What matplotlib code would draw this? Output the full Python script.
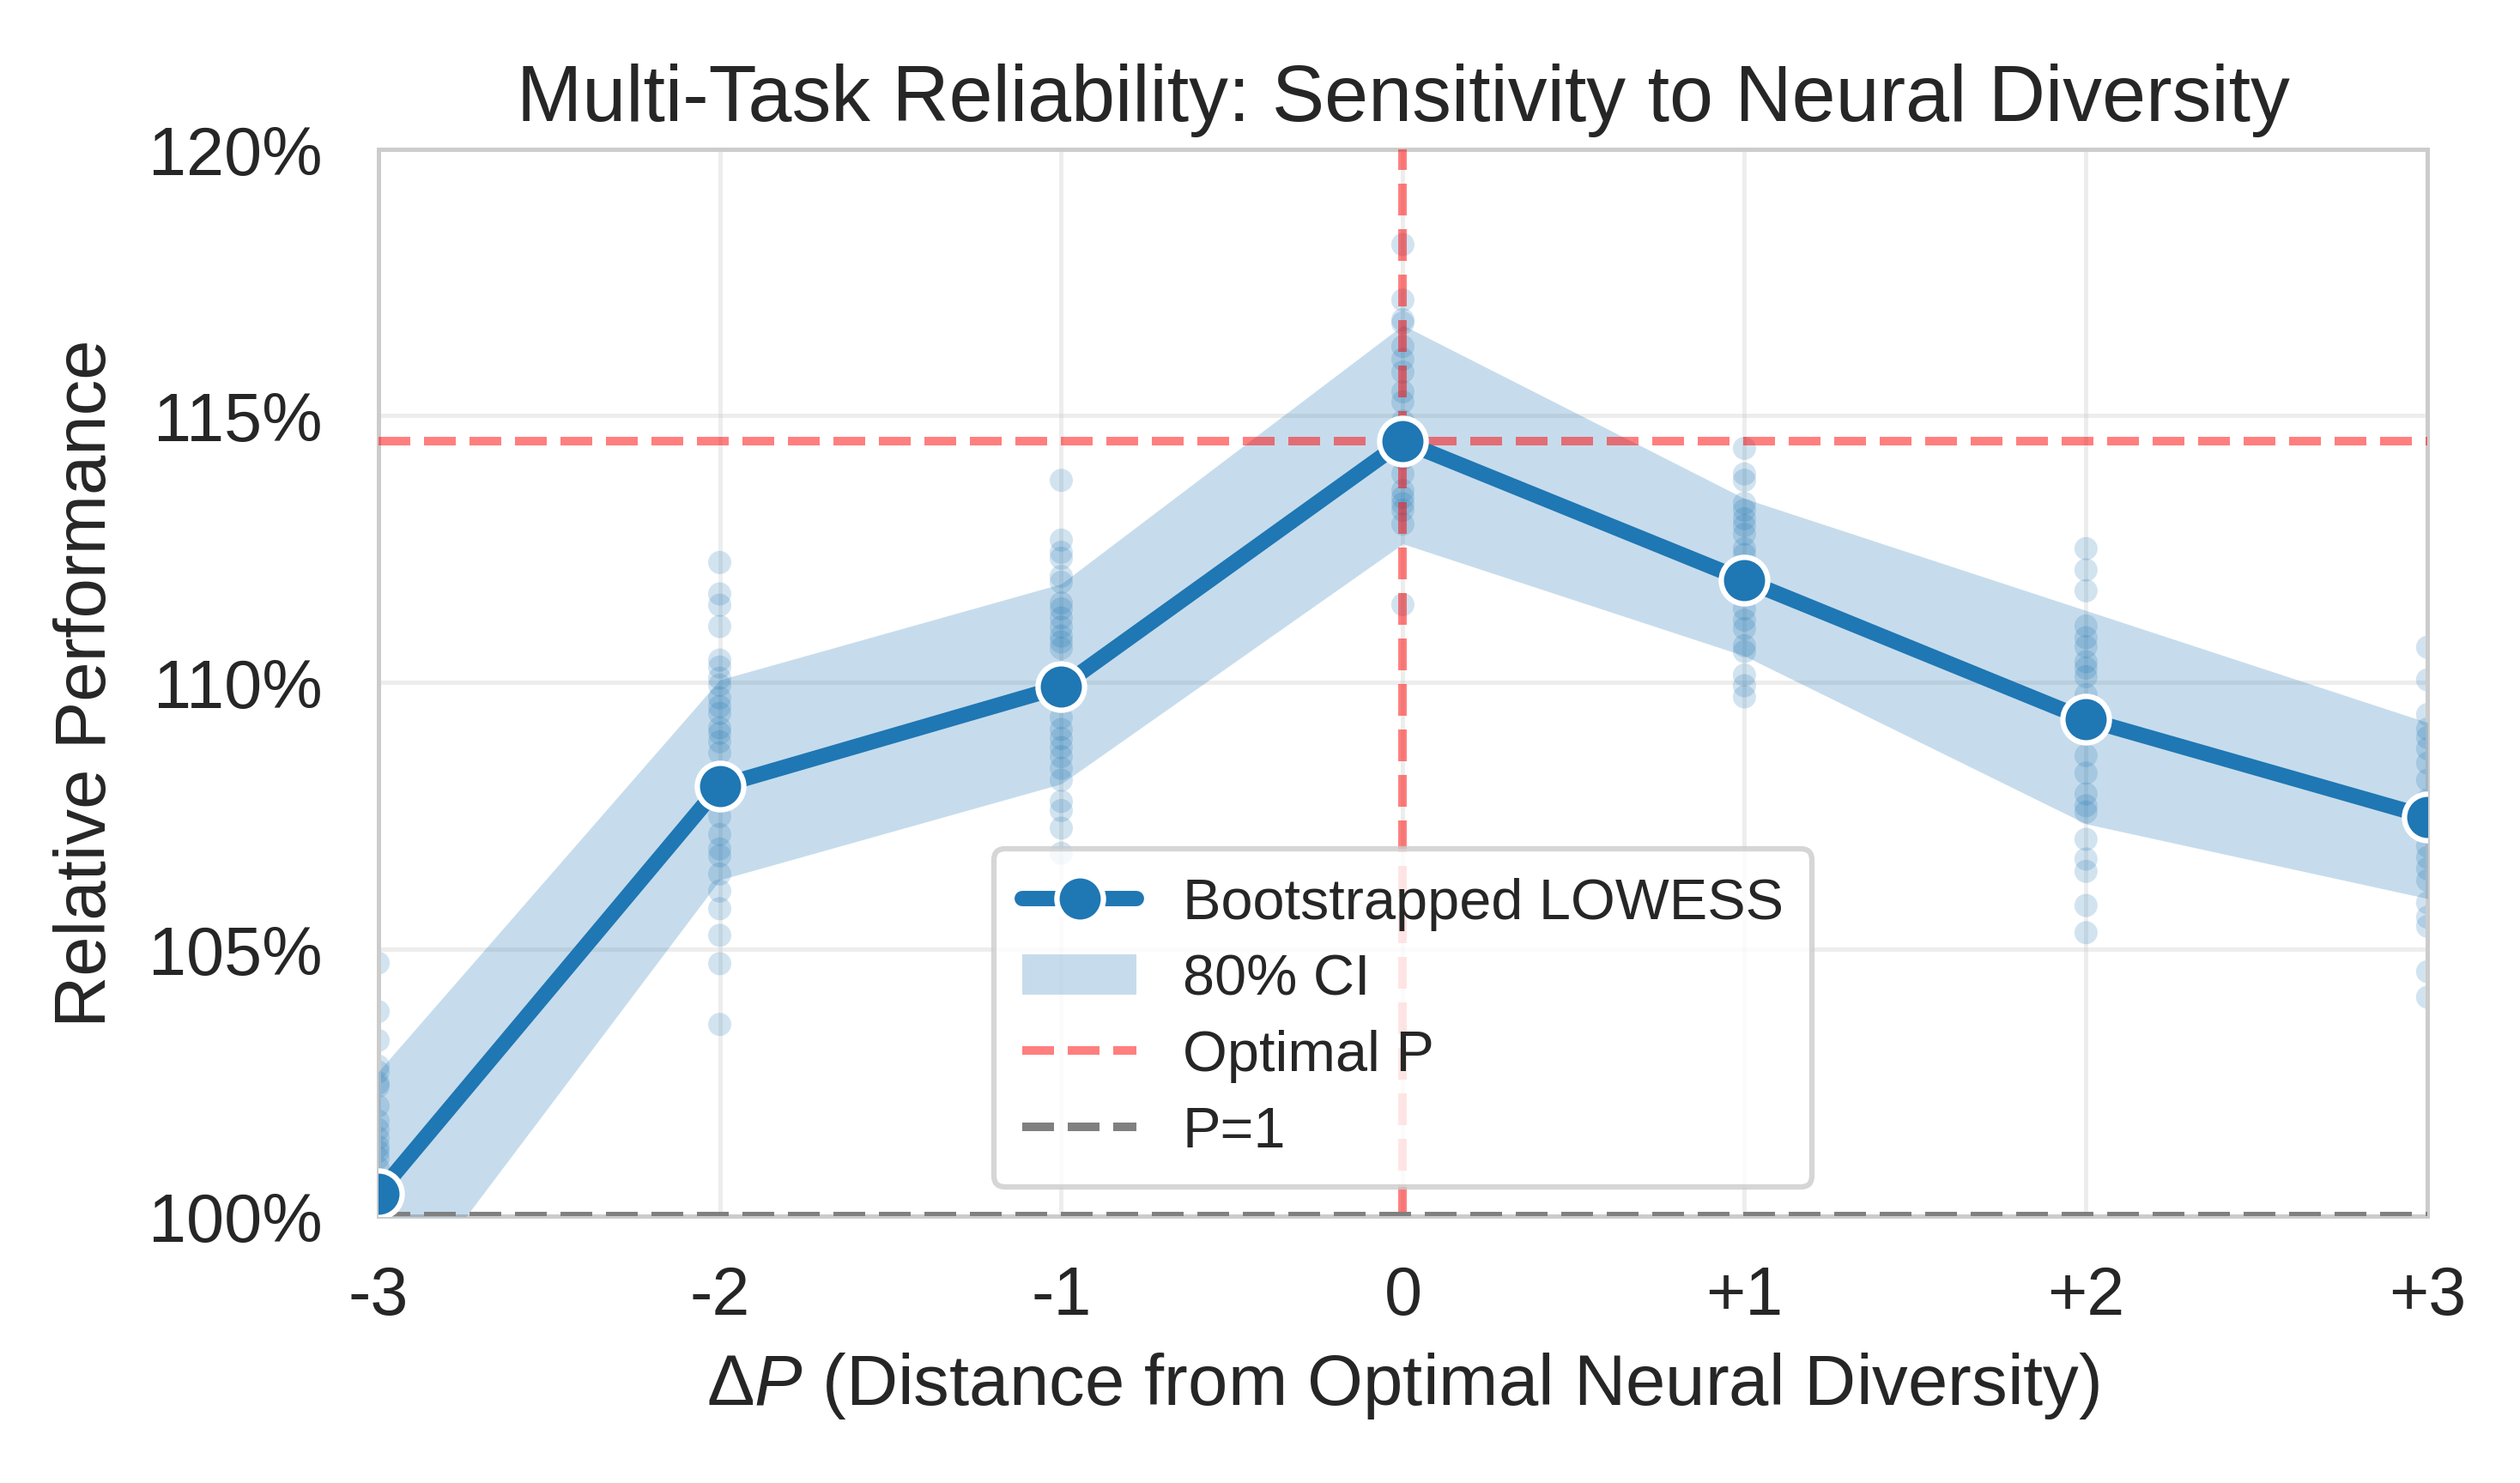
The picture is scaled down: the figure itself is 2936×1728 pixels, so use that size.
import numpy as np
import matplotlib
matplotlib.use('Agg')
import matplotlib.pyplot as plt
import seaborn as sns
from matplotlib.ticker import FuncFormatter

sns.set_style('whitegrid')
plt.rcParams['font.family'] = ['Liberation Sans', 'DejaVu Sans']
plt.rcParams['mathtext.fontset'] = 'custom'
plt.rcParams['mathtext.rm'] = 'Liberation Sans'
plt.rcParams['mathtext.it'] = 'Liberation Sans:italic'

# distance from optimal P
delta_p = [-3, -2, -1, 0, 1, 2, 3]
tick_labels = ['-3', '-2', '-1', '0', '+1', '+2', '+3']

# LOWESS curve and 80% CI (relative performance, %)
curve = [100.42, 108.06, 109.92, 114.52, 111.92, 109.31, 107.48]
ci_low = [97.8, 106.3, 108.1, 112.6, 110.5, 107.35, 105.95]
ci_high = [102.7, 110.05, 111.85, 116.7, 113.45, 111.35, 109.25]

# raw samples per delta P
samples = {
    -3: [104.74, 103.83, 103.29, 102.81, 102.70, 102.49, 102.43, 102.06, 101.78,
         101.62, 101.46, 101.30, 101.21, 101.09, 100.9, 100.7, 100.5, 100.3],
    -2: [112.25, 111.66, 111.45, 111.05, 110.42, 110.29, 110.08, 109.95, 109.71,
         109.55, 109.42, 109.15, 109.05, 108.89, 108.68, 108.3, 107.9, 107.49,
         107.15, 106.88, 106.75, 106.41, 106.09, 105.76, 105.26, 104.73, 103.59],
    -1: [113.79, 112.67, 112.44, 112.33, 111.99, 111.88, 111.49, 111.38, 111.21,
         111.04, 110.87, 110.76, 110.64, 110.2, 109.7, 109.34, 109.12, 108.95,
         108.78, 108.61, 108.39, 108.17, 107.77, 107.60, 107.27, 106.80],
    0: [118.21, 117.17, 116.80, 116.74, 116.30, 116.06, 115.82, 115.45, 115.26,
        114.9, 114.6, 114.2, 113.91, 113.60, 113.47, 113.35, 113.23, 112.97, 111.46],
    1: [114.39, 113.91, 113.79, 113.36, 113.23, 113.07, 112.94, 112.78, 112.51,
        112.40, 112.1, 111.7, 111.38, 111.17, 111.01, 110.69, 110.58, 110.14,
        109.94, 109.73],
    2: [112.51, 112.11, 111.72, 111.06, 110.84, 110.67, 110.39, 110.27, 110.11,
        109.77, 109.5, 109.1, 108.63, 108.30, 107.91, 107.69, 107.57, 107.06,
        106.69, 106.46, 105.82, 105.31],
    3: [110.66, 110.05, 109.40, 109.13, 108.97, 108.76, 108.49, 108.17, 107.8,
        107.2, 106.93, 106.72, 106.51, 106.29, 105.87, 105.60, 105.43, 104.58,
        104.10],
}

optimal_perf = curve[delta_p.index(0)]
baseline = 100.0

blue = '#1f77b4'

fig, ax = plt.subplots(figsize=(9.79, 5.763), dpi=300)
fig.subplots_adjust(left=0.150, right=0.963, bottom=0.180, top=0.899)

for dp, vals in samples.items():
    ax.scatter([dp] * len(vals), vals, s=42, color=blue, alpha=0.2,
               edgecolors='none', zorder=2)

ax.fill_between(delta_p, ci_low, ci_high, color=blue, alpha=0.25,
                linewidth=0, label='80% CI', zorder=3)
ax.axvline(0, color='red', alpha=0.5, ls='--', lw=2.4, zorder=4)
ax.axhline(optimal_perf, color='red', alpha=0.5, ls='--', lw=2.4,
           label='Optimal P', zorder=4)
ax.axhline(baseline, color='gray', ls='--', lw=2.4, label='P=1', zorder=4)
ax.plot(delta_p, curve, color=blue, lw=4.3, marker='o', markersize=13,
        markeredgecolor='white', markeredgewidth=1.5,
        label='Bootstrapped LOWESS', zorder=5)

ax.set_xlim(-3, 3)
ax.set_ylim(100, 120)
ax.set_xticks(delta_p)
ax.set_xticklabels(tick_labels)
ax.set_yticks([100, 105, 110, 115, 120])
ax.yaxis.set_major_formatter(FuncFormatter(lambda v, p: '{:.0f}%'.format(v)))
ax.tick_params(labelsize=19)
ax.tick_params(axis='y', pad=12)
ax.tick_params(axis='x', pad=10)
ax.grid(True, color='.8', alpha=0.35, lw=1.2)
for s in ax.spines.values():
    s.set_color('.8')
    s.set_linewidth(1.2)

ax.set_title('Multi-Task Reliability: Sensitivity to Neural Diversity',
             fontsize=22, pad=8)
ax.set_xlabel(r'$\Delta P$ (Distance from Optimal Neural Diversity)', fontsize=20,
              labelpad=6)
ax.set_ylabel('Relative Performance', fontsize=20, labelpad=8)

h, l = ax.get_legend_handles_labels()
order = [l.index(n) for n in ['Bootstrapped LOWESS', '80% CI', 'Optimal P', 'P=1']]
leg = ax.legend([h[i] for i in order], [l[i] for i in order], loc='lower center',
                fontsize=16, framealpha=0.8, borderpad=0.5, labelspacing=0.4)
leg.get_frame().set_edgecolor('.8')
leg.get_frame().set_linewidth(1.5)

plt.savefig('out.png', dpi=300)
plt.close()
